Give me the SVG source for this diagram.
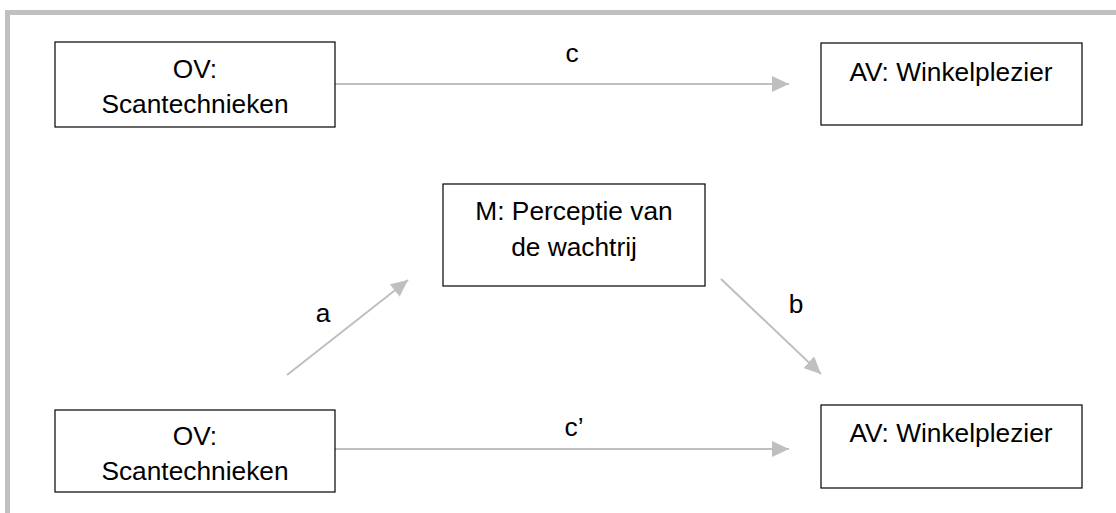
<svg xmlns="http://www.w3.org/2000/svg" width="1116" height="513" viewBox="0 0 1116 513">
<style>
.box{fill:#fff;stroke:#000;stroke-width:1.2}
.t{font-family:"Liberation Sans",Arial,sans-serif;font-size:26.3px;fill:#000;text-anchor:middle}
.c{stroke:#bfbfbf;stroke-width:2;fill:none}
</style>
<defs>
<marker id="ah" markerUnits="userSpaceOnUse" markerWidth="18" markerHeight="16" viewBox="0 0 18 16" refX="17" refY="8" orient="auto">
<path d="M0,0 L17,8 L0,16 Z" fill="#bfbfbf"/>
</marker>
</defs>
<rect width="1116" height="513" fill="#fff"/>
<path d="M7.5,520 V12.5 H1120" fill="none" stroke="#c0c0c0" stroke-width="5"/>
<g id="connectors">
<line class="c" x1="335" y1="84" x2="789" y2="84" marker-end="url(#ah)"/>
<line class="c" x1="287" y1="375" x2="408" y2="280" marker-end="url(#ah)"/>
<line class="c" x1="721" y1="279" x2="821" y2="374" marker-end="url(#ah)"/>
<line class="c" x1="335" y1="449" x2="789" y2="449" marker-end="url(#ah)"/>
<text class="t" x="572" y="62">c</text>
<text class="t" x="323" y="322">a</text>
<text class="t" x="796" y="313">b</text>
<text class="t" x="574" y="436">c’</text>
</g>
<g id="ov1">
<rect class="box" x="55" y="42" width="280" height="85"/>
<text class="t" x="195" y="78">OV:</text>
<text class="t" x="195" y="113">Scantechnieken</text>
</g>
<g id="av1">
<rect class="box" x="821" y="43" width="261" height="82"/>
<text class="t" x="951" y="81">AV: Winkelplezier</text>
</g>
<g id="m">
<rect class="box" x="443" y="184" width="262" height="102"/>
<text class="t" x="574" y="220">M: Perceptie van</text>
<text class="t" x="574" y="256">de wachtrij</text>
</g>
<g id="ov2">
<rect class="box" x="55" y="410" width="280" height="82"/>
<text class="t" x="195" y="445">OV:</text>
<text class="t" x="195" y="480">Scantechnieken</text>
</g>
<g id="av2">
<rect class="box" x="821" y="405" width="261" height="83"/>
<text class="t" x="951" y="442">AV: Winkelplezier</text>
</g>
</svg>
